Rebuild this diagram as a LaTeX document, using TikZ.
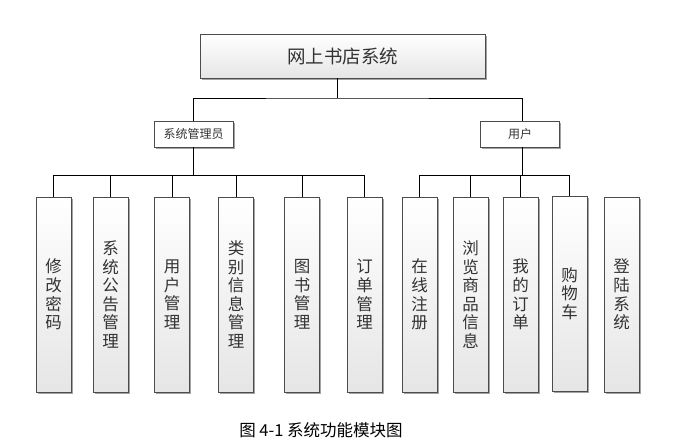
\documentclass[tikz,border=0pt]{standalone}
\usepackage{fontspec}
\setmainfont{Noto Sans CJK SC}
\usetikzlibrary{shadows}
\begin{document}
\begin{tikzpicture}[x=1pt,y=-1pt,
  boxline/.style={draw=black!70, line width=0.7pt},
  shadowed/.style={drop shadow={shadow xshift=1.8pt,shadow yshift=-1.8pt,fill=black!45,opacity=0.8}},
  rootbox/.style={boxline,shadowed,top color=white,bottom color=black!10,minimum width=285pt,minimum height=44pt,inner sep=0pt,text=black!80,font=\fontsize{18.5}{20}\selectfont},
  rolebox/.style={boxline,shadowed,fill=white,minimum width=79pt,minimum height=26pt,inner sep=0pt,text=black!80,font=\fontsize{12}{13}\selectfont},
  leafbox/.style={boxline,shadowed,top color=white,bottom color=black!10,minimum width=35pt,minimum height=195pt,inner sep=0pt,align=center,text=black!80,font=\fontsize{16.5}{18.6}\selectfont},
  conn/.style={draw=black,line width=0.8pt}]
\useasboundingbox (0,0) rectangle (699,446);
\fill[white] (0,0) rectangle (699,446);
% root and roles
\node[rootbox] (root) at (342.5,56) {网上书店系统};
\node[rolebox] (admin) at (193.5,134) {系统管理员};
\node[rolebox] (user) at (520,134) {用户};
% leaves
\node[leafbox] (l1) at (53.5,294.5) {修\\改\\密\\码};
\node[leafbox] (l2) at (110.5,294.5) {系\\统\\公\\告\\管\\理};
\node[leafbox] (l3) at (172,294.5) {用\\户\\管\\理};
\node[leafbox] (l4) at (236,294.5) {类\\别\\信\\息\\管\\理};
\node[leafbox] (l5) at (302,294.5) {图\\书\\管\\理};
\node[leafbox] (l6) at (364.5,294.5) {订\\单\\管\\理};
\node[leafbox] (r1) at (419.5,294.5) {在\\线\\注\\册};
\node[leafbox] (r2) at (470.5,294.5) {浏\\览\\商\\品\\信\\息};
\node[leafbox] (r3) at (520.5,294.5) {我\\的\\订\\单};
\node[leafbox] (r4) at (569.5,293.5) {购\\物\\车};
\node[leafbox] (r5) at (621.5,294.5) {登\\陆\\系\\统};
% bus coordinates
\coordinate (topbus) at (337,98);
\coordinate (abus) at (193.5,175);
\coordinate (ubus) at (522,175);
% connectors top level
\draw[conn] ([xshift=-5.5pt]root.south) -- (topbus);
\draw[conn] (admin.north) |- (topbus) -| ([xshift=2pt]user.north);
% admin level
\draw[conn] (admin.south) -- (abus);
\draw[conn] (l1.north) |- (abus);
\draw[conn] (l6.north) |- (abus);
\foreach \n in {l2,l3,l4,l5}{\draw[conn] (\n.north) -- (\n.north |- abus);}
% user level
\draw[conn] ([xshift=2pt]user.south) -- (ubus);
\draw[conn] (r1.north) |- (ubus);
\draw[conn] (r4.north) |- (ubus);
\foreach \n in {r2,r3}{\draw[conn] (\n.north) -- (\n.north |- ubus);}
% caption
\node[font=\fontsize{16.5}{18}\selectfont] (cap) at (321,430) {图 4-1 系统功能模块图};
\end{tikzpicture}
\end{document}
